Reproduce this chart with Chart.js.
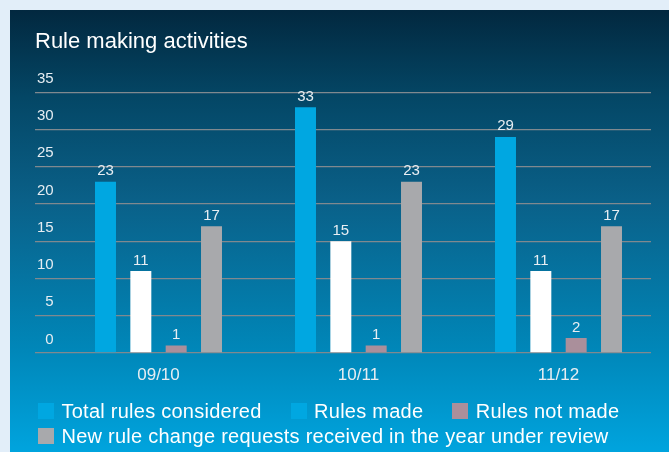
<!DOCTYPE html>
<html>
<head>
<meta charset="utf-8">
<script src="https://cdn.jsdelivr.net/npm/chart.js@4/dist/chart.umd.min.js"></script>
<style>
  html, body { margin: 0; padding: 0; }
  body { width: 669px; height: 452px; background: #e2eef9; position: relative; overflow: hidden; }
  #panel { position: absolute; left: 10px; top: 10px; width: 659px; height: 442px;
    background: linear-gradient(180deg, #02283f 0%, #044766 20%, #0a6088 43%, #0087b9 77%, #00a4de 100%); }
  #wrap { position: absolute; left: 0; top: 0; width: 669px; height: 452px; }
  #legend { position: absolute; left: 38px; top: 399px; width: 625px; display: flex; flex-wrap: wrap;
    font-family: "Liberation Sans", Arial, sans-serif; font-size: 20px; color: #ffffff; line-height: 24.7px; letter-spacing: 0.25px; }
  .item { display: flex; align-items: center; margin-right: 29px; white-space: nowrap; }
  .box { width: 16px; height: 16px; margin-right: 7.5px; }
</style>
</head>
<body>
<div id="panel"></div>
<div id="wrap"><canvas id="c" width="669" height="452"></canvas></div>
<div id="legend"></div>
<script>
const categories = ['09/10', '10/11', '11/12'];
const totalRulesConsidered = [23, 33, 29];
const rulesMade = [11, 15, 11];
const rulesNotMade = [1, 1, 2];
const newRuleChangeRequests = [17, 23, 17];
const seriesNames = ['Total rules considered', 'Rules made', 'Rules not made', 'New rule change requests received in the year under review'];
const barColors = ['#00a7e1', '#ffffff', '#aa8f9b', '#a8a9ac'];
const legendColors = ['#00a7e1', '#00a7e1', '#aa8f9b', '#a8a9ac'];
const yMin = 0, yMax = 35, yStep = 5;

Chart.defaults.font.family = '"Liberation Sans", Arial, sans-serif';

const valueLabels = {
  id: 'valueLabels',
  afterDatasetsDraw(chart) {
    const ctx = chart.ctx;
    ctx.save();
    ctx.font = '15px "Liberation Sans", Arial, sans-serif';
    ctx.fillStyle = '#e8eef3';
    ctx.textAlign = 'center';
    ctx.textBaseline = 'alphabetic';
    chart.data.datasets.forEach((ds, i) => {
      const meta = chart.getDatasetMeta(i);
      meta.data.forEach((bar, j) => {
        ctx.fillText(String(ds.data[j]), bar.x, bar.y - 6.5);
      });
    });
    ctx.restore();
  }
};

const seriesData = [totalRulesConsidered, rulesMade, rulesNotMade, newRuleChangeRequests];

const chart = new Chart(document.getElementById('c'), {
  type: 'bar',
  data: {
    labels: categories,
    datasets: seriesData.map((d, i) => ({
      label: seriesNames[i],
      data: d,
      backgroundColor: barColors[i],
      borderWidth: 0,
      categoryPercentage: 0.7067,
      barPercentage: 0.594
    }))
  },
  options: {
    responsive: false,
    animation: false,
    layout: { padding: { left: 35, right: 18, top: 0, bottom: 59 } },
    plugins: {
      legend: { display: false },
      tooltip: { enabled: false },
      title: {
        display: true,
        text: 'Rule making activities',
        align: 'start',
        color: '#ffffff',
        font: { size: 22, weight: 'normal' },
        padding: { top: 28.5, bottom: 37.4 }
      }
    },
    scales: {
      x: {
        grid: { display: false },
        border: { display: false },
        ticks: { color: '#e6edf2', font: { size: 17 }, padding: 4 },
        afterFit(s) { s.height = 40; },
        afterBuildTicks(s) { s._startValue = -0.6175; s._valueRange = 3.08; }
      },
      y: {
        min: yMin, max: yMax,
        border: { display: false },
        grid: { color: '#80898f', lineWidth: 1.3, drawTicks: false },
        ticks: { stepSize: yStep, color: '#e6edf2', font: { size: 15 }, mirror: true, crossAlign: 'far', padding: 2, labelOffset: -13.5 },
        afterFit(s) { s.width = 0; }
      }
    }
  },
  plugins: [valueLabels]
});

const legend = document.getElementById('legend');
chart.data.datasets.forEach((ds, i) => {
  const it = document.createElement('div');
  it.className = 'item';
  const b = document.createElement('span');
  b.className = 'box';
  b.style.background = legendColors[i];
  const t = document.createElement('span');
  t.textContent = ds.label;
  it.appendChild(b); it.appendChild(t);
  legend.appendChild(it);
});
</script>
</body>
</html>
